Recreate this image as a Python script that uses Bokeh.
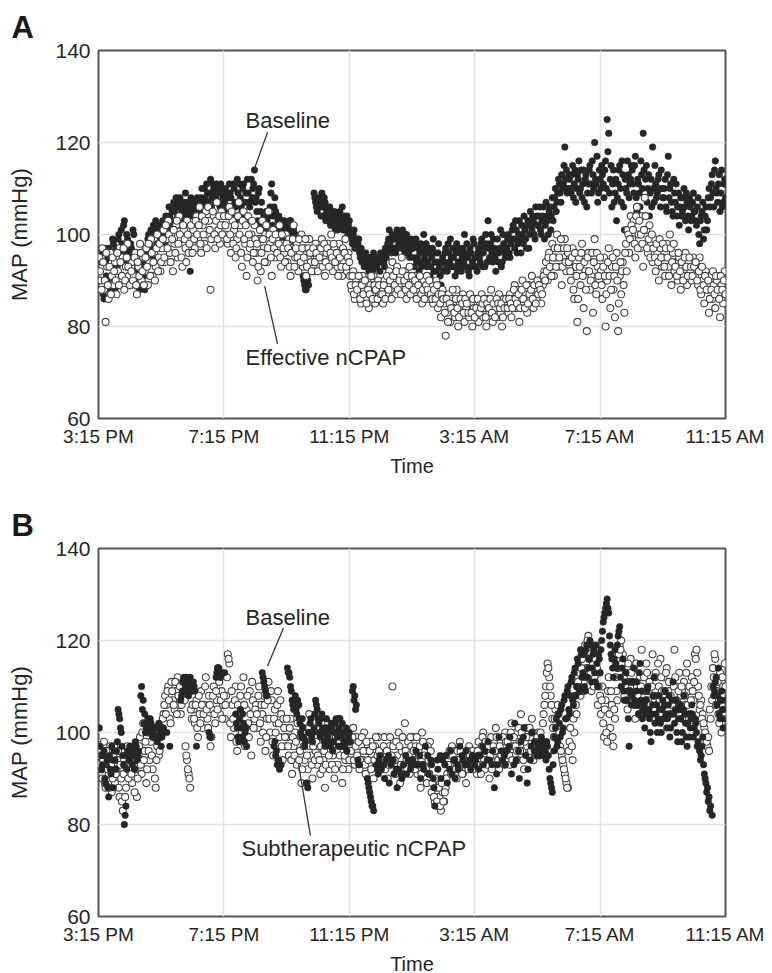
import numpy as np
from bokeh.plotting import figure
from bokeh.layouts import column
from bokeh.models import FixedTicker, Label, Range1d, ColumnDataSource, Title
from bokeh.embed import file_html
from bokeh.resources import INLINE

NA = float("nan")

# x axis: hours after 3:15 PM
TICK_HOURS = [0, 4, 8, 12, 16, 20]
TICK_LABELS = ["3:15 PM", "7:15 PM", "11:15 PM", "3:15 AM", "7:15 AM", "11:15 AM"]
MAP_TICKS = [60, 80, 100, 120, 140]

# Each row = MAP samples (mmHg) within one hour.
# "*_1" rows and "*_2" rows are interleaved samples of the same hour.
BASE_A_1 = [
    [92, 88, 96, 86, 94, 90, 97, 89, 95, 98, 88, 96, 99, 94, 101, 96, 103, 97, 99, 95],
    [98, 96, 100, 92, 89, 91, 93, 90, 94, 88, 96, 99, 97, 101, 95, 100, 103, 98, 102, 99],
    [100, 102, 98, 103, 101, 104, 106, 103, 105, 108, 104, 107, 103, 106, 105, 109, 104, 107, 92, 106],
    [105, 107, 103, 106, 104, 108, 106, 110, 107, 109, 106, 112, 108, 110, 107, 111, 109, 106, 110, 108],
    [107, 109, 106, 111, 108, 104, 110, 106, 112, 103, 108, 105, 111, 107, 104, 109, 106, 112, 110, 114],
    [108, 103, 110, 105, 102, 104, 101, 103, 100, 106, 111, 104, 108, 97, 103, 100, 102, 99, 103, 101],
    [102, 100, 103, 99, 101, 100, NA, NA, NA, NA, 91, 89, 88, 90, NA, NA, NA, 109, 107, 105],
    [108, 106, 109, 104, 107, 105, 103, 106, 104, 102, 105, 103, 101, 104, 102, 106, 103, 101, 104, 102],
    [101, 99, 100, 97, 99, 98, 96, 97, 95, 93, 96, 94, 92, 95, 93, 96, 94, 93, 95, 92],
    [94, 96, 93, 95, 98, 101, 97, 100, 99, 96, 101, 98, 100, 97, 99, 96, 100, 98, 95, 99],
    [97, 93, 99, 95, 92, 98, 94, 100, 96, 93, 97, 91, 95, 99, 94, 92, 96, 93, 89, 95],
    [94, 97, 92, 96, 99, 93, 95, 91, 98, 94, 96, 92, 97, 100, 93, 95, 91, 96, 94, 98],
    [95, 92, 97, 94, 99, 96, 93, 98, 103, 95, 100, 94, 97, 92, 99, 96, 101, 94, 98, 95],
    [97, 100, 95, 99, 102, 97, 101, 98, 103, 96, 100, 104, 99, 102, 97, 105, 101, 103, 99, 104],
    [102, 106, 100, 104, 99, 107, 103, 105, 101, 108, 106, 110, 107, 112, 109, 113, 111, 119, 114, 110],
    [112, 109, 115, 111, 107, 113, 116, 110, 108, 114, 112, 106, 111, 115, 109, 113, 120, 111, 107, 114],
    [110, 113, 108, 116, 125, 122, 112, 106, 114, 109, 103, 111, 115, 107, 113, 101, 110, 116, 108, 112],
    [114, 109, 117, 105, 111, 106, 113, 122, 108, 115, 110, 104, 112, 119, 107, 111, 109, 113, 106, 110],
    [108, 112, 105, 117, 110, 107, 104, 109, 111, 106, 102, 108, 105, 110, 103, 107, 101, 106, 104, 109],
    [105, 102, 108, 98, 104, 107, 101, 106, 103, 110, 108, 113, 106, 116, 109, 111, 105, 114, 107, 112],
]
BASE_A_2 = [
    [90, 94, 87, 97, 91, 95, 88, 93, 99, 90, 97, 93, 100, 96, 98, 102, 94, 100, 96, 98],
    [97, 101, 95, 90, 93, 88, 92, 95, 91, 97, 93, 100, 98, 96, 102, 97, 101, 100, 97, 101],
    [103, 99, 104, 100, 106, 102, 105, 107, 103, 106, 102, 108, 105, 104, 107, 103, 106, 105, 108, 104],
    [106, 104, 108, 105, 107, 110, 105, 108, 111, 107, 109, 106, 111, 109, 108, 110, 107, 111, 109, 106],
    [110, 105, 108, 109, 106, 111, 107, 104, 109, 111, 106, 110, 104, 109, 112, 107, 103, 108, 111, 107],
    [105, 109, 102, 107, 103, 100, 105, 102, 104, 109, 102, 106, 105, 101, 104, 98, 103, 101, 100, 102],
    [101, 103, 100, 102, 98, NA, NA, NA, NA, NA, 90, 88, 91, 89, NA, NA, NA, 108, 106, 107],
    [107, 104, 106, 108, 103, 106, 104, 102, 105, 103, 101, 104, 102, 105, 103, 101, 104, 102, 100, 103],
    [100, 98, 101, 98, 97, 99, 95, 94, 96, 94, 93, 95, 93, 94, 92, 95, 93, 95, 94, 96],
    [95, 94, 97, 96, 99, 98, 96, 99, 97, 100, 97, 99, 98, 101, 98, 97, 99, 96, 98, 97],
    [95, 98, 94, 97, 96, 93, 97, 95, 98, 94, 96, 93, 97, 92, 96, 94, 98, 91, 94, 92],
    [96, 93, 98, 94, 95, 97, 93, 96, 92, 97, 93, 95, 94, 96, 98, 92, 97, 93, 99, 95],
    [93, 96, 95, 98, 93, 97, 100, 94, 97, 98, 96, 99, 95, 96, 94, 97, 93, 100, 96, 97],
    [99, 96, 98, 101, 99, 103, 96, 100, 99, 102, 98, 101, 97, 103, 100, 102, 104, 100, 106, 102],
    [104, 101, 103, 106, 102, 104, 100, 106, 104, 103, 108, 105, 109, 111, 107, 110, 115, 112, 109, 113],
    [110, 113, 108, 114, 110, 112, 109, 114, 111, 107, 113, 109, 114, 111, 116, 110, 112, 117, 109, 112],
    [115, 111, 114, 110, 118, 109, 115, 111, 107, 112, 108, 114, 110, 116, 106, 112, 109, 113, 111, 115],
    [111, 115, 108, 112, 109, 116, 110, 114, 112, 107, 113, 109, 106, 110, 115, 108, 112, 110, 114, 108],
    [110, 106, 113, 108, 111, 105, 112, 107, 104, 109, 106, 104, 108, 106, 109, 104, 108, 103, 107, 105],
    [103, 106, 100, 103, 105, 99, 104, 101, 108, 106, 111, 109, 114, 110, 107, 113, 109, 106, 111, 108],
]

CPAP_A_1 = [
    [95, 90, 97, 88, 81, 93, 86, 96, 91, 89, 94, 87, 92, 97, 90, 95, 88, 93, 98, 91],
    [89, 94, 91, 96, 87, 93, 98, 90, 95, 92, 97, 89, 94, 99, 91, 96, 93, 100, 95, 92],
    [97, 101, 94, 99, 103, 96, 100, 92, 98, 102, 95, 104, 99, 93, 101, 97, 103, 96, 100, 98],
    [101, 97, 104, 99, 106, 96, 102, 98, 105, 100, 103, 88, 99, 104, 97, 107, 101, 98, 105, 102],
    [100, 104, 98, 106, 96, 103, 101, 95, 99, 107, 102, 93, 105, 98, 91, 104, 97, 100, 94, 102],
    [96, 90, 99, 92, 103, 97, 100, 94, 105, 98, 91, 101, 95, 99, 97, 102, 93, 98, 96, 100],
    [94, 99, 91, 97, 102, 95, 98, 92, 96, 100, 93, 97, 91, 95, 99, 94, 96, 92, 98, 95],
    [97, 93, 99, 95, 91, 96, 98, 94, 100, 92, 97, 95, 93, 98, 96, 91, 94, 99, 92, 96],
    [91, 88, 92, 86, 90, 87, 89, 85, 91, 88, 86, 90, 84, 89, 87, 91, 85, 88, 90, 86],
    [88, 85, 90, 87, 89, 92, 88, 94, 90, 87, 93, 89, 91, 95, 88, 92, 86, 90, 93, 89],
    [90, 87, 91, 88, 86, 89, 85, 90, 87, 91, 86, 88, 89, 85, 87, 90, 84, 86, 82, 88],
    [85, 78, 83, 87, 81, 86, 84, 82, 88, 80, 85, 83, 87, 81, 84, 86, 82, 85, 80, 84],
    [86, 83, 81, 85, 87, 82, 84, 80, 86, 83, 88, 81, 85, 84, 82, 87, 83, 80, 86, 84],
    [85, 83, 87, 82, 86, 89, 84, 88, 81, 86, 90, 85, 87, 83, 89, 86, 91, 84, 88, 86],
    [87, 90, 85, 89, 92, 94, 90, 96, 93, 98, 91, 95, 100, 93, 97, 89, 95, 99, 92, 96],
    [94, 90, 97, 86, 93, 81, 95, 89, 98, 84, 92, 79, 96, 88, 91, 83, 99, 87, 93, 90],
    [92, 86, 95, 80, 90, 97, 84, 93, 88, 82, 96, 79, 91, 87, 94, 83, 98, 101, 96, 104],
    [99, 103, 95, 106, 100, 97, 104, 93, 108, 101, 96, 102, 98, 94, 99, 92, 96, 90, 97, 93],
    [95, 91, 98, 93, 100, 89, 96, 92, 94, 90, 95, 88, 93, 91, 96, 89, 94, 92, 90, 95],
    [91, 93, 89, 95, 87, 90, 85, 92, 88, 83, 91, 86, 89, 84, 90, 87, 82, 89, 85, 92],
]
CPAP_A_2 = [
    [92, 88, 94, 90, 96, 89, 93, 87, 95, 92, 90, 96, 89, 94, 91, 97, 90, 95, 93, 89],
    [92, 90, 95, 89, 94, 91, 96, 92, 89, 95, 93, 98, 91, 96, 94, 90, 97, 92, 98, 94],
    [99, 95, 102, 97, 100, 94, 99, 101, 96, 103, 98, 100, 95, 102, 99, 94, 100, 98, 102, 96],
    [99, 103, 100, 102, 98, 104, 100, 103, 97, 106, 101, 99, 105, 100, 103, 99, 104, 102, 100, 104],
    [102, 99, 104, 100, 105, 98, 102, 97, 104, 100, 96, 103, 99, 102, 95, 100, 98, 103, 96, 99],
    [98, 93, 101, 96, 99, 94, 102, 97, 100, 95, 99, 97, 100, 96, 98, 95, 100, 97, 94, 98],
    [97, 93, 96, 99, 93, 97, 95, 99, 94, 97, 95, 99, 93, 97, 96, 92, 97, 94, 96, 92],
    [95, 97, 93, 98, 94, 97, 93, 96, 95, 98, 94, 96, 91, 95, 93, 97, 96, 93, 95, 94],
    [89, 91, 87, 89, 88, 91, 86, 89, 87, 90, 85, 88, 87, 91, 86, 89, 88, 86, 89, 87],
    [87, 89, 86, 91, 88, 90, 86, 91, 89, 92, 88, 90, 87, 92, 90, 88, 91, 89, 87, 91],
    [88, 90, 86, 89, 91, 87, 88, 86, 89, 88, 90, 87, 86, 88, 86, 89, 87, 85, 87, 86],
    [83, 86, 81, 85, 84, 88, 83, 86, 84, 82, 86, 85, 83, 86, 85, 83, 87, 83, 86, 82],
    [84, 86, 83, 84, 85, 86, 82, 85, 84, 86, 83, 85, 82, 86, 85, 84, 85, 82, 84, 86],
    [84, 86, 85, 84, 88, 86, 85, 87, 84, 88, 86, 84, 89, 85, 87, 88, 86, 89, 85, 90],
    [89, 88, 87, 91, 90, 92, 95, 93, 91, 95, 97, 93, 97, 95, 99, 93, 97, 94, 97, 94],
    [92, 95, 88, 96, 91, 86, 93, 96, 91, 94, 88, 95, 92, 90, 96, 94, 89, 96, 91, 95],
    [89, 93, 91, 87, 94, 91, 88, 95, 91, 93, 90, 85, 94, 92, 89, 96, 92, 100, 99, 102],
    [101, 98, 104, 97, 103, 100, 98, 101, 104, 97, 99, 95, 100, 97, 95, 98, 94, 99, 95, 98],
    [93, 97, 95, 91, 97, 94, 98, 93, 91, 96, 92, 94, 90, 95, 93, 91, 95, 93, 91, 93],
    [94, 90, 92, 88, 93, 89, 91, 88, 90, 86, 88, 92, 87, 91, 88, 86, 91, 88, 90, 87],
]

BASE_B_1 = [
    [101, 95, 93, 96, 89, 94, 86, 92, 97, 88, 94, 96, 105, 103, 100, 95, 80, 84, 96, 94],
    [97, 93, 95, 98, 94, 96, NA, 110, 107, 104, 101, 103, 100, 102, 99, 101, NA, 98, 102, 100],
    [99, 101, NA, 100, NA, 97, NA, NA, NA, NA, NA, NA, 107, 109, 112, 110, 111, 108, 112, 110],
    [111, 109, 97, NA, NA, NA, NA, NA, NA, NA, 100, 99, NA, NA, NA, 113, 114, 112, 113, NA],
    [113, NA, NA, NA, NA, NA, NA, 104, 101, 98, 105, 99, 102, 100, 97, NA, NA, NA, NA, NA],
    [NA, NA, NA, NA, 113, 111, 109, 108, NA, NA, NA, NA, 98, 96, 94, 92, 93, NA, NA, NA],
    [114, 113, 110, 107, 105, 108, 104, 106, 102, 99, 101, 97, 89, 88, 100, 103, 98, 101, 107, 105],
    [102, 99, 104, 100, 97, 103, 101, 98, 102, 96, 100, 103, 99, 101, 97, 102, 98, 100, 96, 99],
    [98, NA, 110, 108, 106, 94, 93, NA, NA, NA, NA, 90, 88, 86, 84, 83, NA, 93, 91, 95],
    [92, NA, 90, 94, NA, 89, 93, NA, 91, NA, 88, 92, NA, 90, 93, NA, 91, 94, NA, 93],
    [94, NA, 96, 93, NA, 90, NA, 92, 97, NA, 91, NA, 93, 90, 84, NA, 92, NA, 90, 94],
    [NA, 95, 89, NA, 96, 91, NA, 90, NA, 92, 97, NA, 94, NA, 96, 93, NA, 92, 95, NA],
    [94, NA, 92, 95, NA, 93, 96, NA, 98, 94, NA, 96, 88, NA, 93, 99, NA, 94, NA, 93],
    [96, NA, 99, 91, NA, 102, 94, NA, 90, 98, NA, 101, 95, 89, NA, 94, 100, NA, 98, 95],
    [97, 95, 99, 96, 98, 94, 97, 92, 89, 87, 96, 101, 97, 104, 99, 106, 101, 108, 103, 110],
    [104, 111, 107, 113, 108, 116, 110, 118, 112, 117, 109, 119, 114, 120, 111, 117, 113, 119, 110, 116],
    [118, 122, 125, 127, 129, 126, 119, 116, 112, 118, 114, 121, 123, 110, 116, 107, 113, 109, 97, 111],
    [108, 114, 106, 111, 104, 115, 109, 105, 101, 107, 110, 103, 98, 106, 112, 104, 100, 108, 102, 105],
    [103, 109, 101, 106, 99, 104, 111, 102, 107, 98, 105, 103, 100, 108, 102, 97, 104, 101, 106, 99],
    [103, 100, 98, 96, 95, 99, 91, 89, 88, 86, 84, 82, 108, 111, 106, 114, 103, 109, 101, 105],
]
BASE_B_2 = [
    [97, 92, 95, 90, 93, 88, 95, 91, 94, 96, 92, 98, 104, 101, 97, 93, 82, 92, 95, 97],
    [95, 96, 92, 97, 95, NA, 108, 105, 102, 100, 102, 101, 103, 100, 100, NA, 99, 101, 99, 97],
    [100, NA, NA, NA, NA, NA, NA, NA, NA, NA, NA, NA, 108, 111, 109, 112, 110, 109, 111, 109],
    [110, NA, NA, NA, NA, NA, NA, NA, NA, NA, 99, NA, NA, NA, 112, 114, 113, 112, NA, NA],
    [NA, NA, NA, NA, NA, NA, NA, 102, 99, 103, 101, 104, 98, 101, NA, NA, NA, NA, NA, NA],
    [NA, NA, NA, NA, 112, 110, 108, NA, NA, NA, NA, 97, 95, 93, 94, NA, NA, NA, NA, NA],
    [113, 112, 109, 106, 107, 105, 107, 103, 100, 103, 99, 98, 89, 100, 102, 99, 100, 104, 106, 103],
    [100, 103, 101, 98, 101, 99, 100, 97, 101, 98, 102, 100, 97, 103, 99, 100, 97, 101, 98, 100],
    [NA, 109, 107, 105, NA, 93, NA, NA, NA, NA, NA, 89, 87, 85, 84, NA, NA, 92, 94, 93],
    [NA, 93, NA, NA, 95, NA, NA, 94, NA, 92, NA, NA, 91, NA, NA, 95, NA, NA, 92, NA],
    [NA, 93, NA, NA, 95, NA, 93, NA, NA, 95, NA, 94, NA, 88, NA, 94, NA, 95, NA, NA],
    [93, NA, NA, 92, NA, NA, 94, NA, 93, NA, NA, 95, NA, 93, NA, NA, 94, NA, NA, 93],
    [NA, 95, NA, NA, 97, NA, NA, 94, NA, NA, 93, NA, NA, 91, NA, NA, 96, NA, 95, NA],
    [NA, 97, NA, NA, 93, NA, NA, 96, NA, NA, 99, NA, NA, 92, NA, 97, NA, 96, NA, NA],
    [96, 98, 97, 95, 96, 98, 95, 90, 88, 93, 99, 103, 98, 102, 105, 100, 107, 103, 109, 105],
    [108, 112, 106, 114, 110, 115, 109, 117, 113, 110, 118, 112, 116, 119, 114, 118, 111, 115, 117, 113],
    [120, 124, 126, 128, 127, 121, 117, 114, 116, 115, 119, 122, 112, 114, 109, 111, 107, 103, 109, 106],
    [111, 107, 109, 106, 113, 107, 103, 106, 104, 109, 105, 100, 104, 108, 102, 106, 103, 105, 100, 107],
    [106, 104, 103, 108, 101, 107, 104, 105, 100, 103, 106, 98, 105, 104, 99, 102, 99, 103, 104, 101],
    [102, 97, 97, 94, 97, 93, 90, 87, 85, 83, NA, 110, 109, 112, 108, 104, 107, 105, 103, 107],
]

CPAP_B_1 = [
    [93, 96, 90, 98, 88, 94, 91, 97, 87, 95, 89, 92, 96, 86, 90, 83, 93, 88, 97, 91],
    [94, 89, 97, 92, 86, 95, 99, 91, 102, 96, 89, 100, 94, 98, 92, 101, 88, 97, 95, 99],
    [101, 104, 108, 106, 110, 103, 111, 107, 105, 109, 112, 106, 104, 108, 110, 97, 94, 91, 88, 103],
    [105, 102, 107, 99, 104, 109, 101, 106, 112, 103, 108, 97, 105, 110, 102, 107, 114, 104, 109, 106],
    [103, 108, 117, 115, 99, 106, 101, 110, 96, 104, 108, 100, 112, 97, 105, 102, 109, 95, 107, 103],
    [106, 101, 110, 98, 104, 108, 96, 103, 111, 100, 107, 95, 105, 102, 109, 99, 104, 94, 101, 97],
    [99, 95, 103, 91, 97, 100, 93, 106, 96, 89, 101, 94, 98, 92, 104, 95, 90, 99, 96, 93],
    [97, 91, 100, 94, 88, 96, 102, 92, 98, 95, 90, 99, 93, 103, 96, 89, 97, 94, 100, 92],
    [98, 95, 101, 93, 99, 96, 92, 97, 94, 100, 91, 96, 93, 98, 95, 90, 97, 93, 99, 95],
    [96, 92, 99, 94, 90, 97, 93, 110, 98, 91, 95, 100, 89, 96, 93, 102, 94, 98, 91, 97],
    [99, 94, 97, 91, 95, 88, 100, 93, 96, 89, 94, 98, 87, 89, 85, 88, 84, 86, 83, 87],
    [85, 88, 91, 95, 93, 97, 92, 96, 90, 94, 98, 93, 91, 95, 89, 94, 97, 92, 96, 93],
    [95, 91, 98, 93, 97, 100, 92, 96, 94, 90, 99, 95, 93, 101, 96, 92, 98, 94, 97, 100],
    [96, 99, 93, 102, 97, 95, 100, 94, 98, 104, 96, 92, 101, 97, 95, 99, 103, 94, 98, 96],
    [100, 95, 98, 102, 106, 110, 115, 112, 108, 103, 99, 105, 101, 104, 97, 95, 93, 91, 89, 88],
    [98, 104, 94, 100, 106, 110, 113, 108, 116, 111, 119, 114, 121, 117, 109, 115, 112, 118, 106, 113],
    [104, 110, 99, 107, 98, 112, 101, 106, 97, 103, 109, 114, 119, 120, 117, 108, 113, 105, 111, 116],
    [108, 114, 103, 110, 106, 112, 118, 105, 109, 115, 107, 111, 104, 117, 108, 113, 106, 110, 116, 109],
    [112, 106, 114, 109, 104, 111, 107, 118, 110, 105, 113, 108, 103, 111, 106, 115, 109, 104, 112, 107],
    [117, 118, 110, 105, 107, 104, 101, 99, 97, 96, 103, 107, 112, 116, 109, 104, 113, 100, 110, 115],
]
CPAP_B_2 = [
    [95, 92, 94, 89, 96, 92, 88, 93, 90, 97, 91, 94, 88, 93, 85, 91, 86, 95, 90, 94],
    [91, 95, 87, 94, 90, 97, 93, 100, 94, 98, 92, 96, 101, 95, 99, 90, 94, 99, 96, 100],
    [103, 106, 104, 109, 107, 102, 109, 106, 111, 104, 108, 110, 106, 111, 107, 95, 92, 90, 105, 106],
    [103, 106, 101, 108, 102, 106, 104, 110, 105, 101, 106, 99, 108, 104, 109, 105, 111, 107, 103, 108],
    [106, 112, 116, 102, 109, 103, 107, 98, 106, 102, 110, 98, 106, 101, 108, 99, 104, 111, 101, 105],
    [104, 108, 102, 106, 100, 106, 99, 107, 103, 109, 98, 103, 100, 106, 102, 107, 97, 103, 99, 103],
    [97, 101, 94, 99, 95, 98, 102, 94, 99, 92, 97, 100, 95, 101, 97, 93, 97, 94, 98, 95],
    [94, 97, 92, 96, 93, 99, 95, 100, 93, 97, 92, 96, 98, 95, 99, 92, 95, 98, 96, 94],
    [96, 99, 94, 97, 95, 98, 94, 99, 96, 93, 98, 94, 96, 92, 97, 94, 99, 95, 96, 93],
    [94, 97, 92, 96, 93, 99, 95, 97, 94, 98, 92, 97, 93, 99, 91, 96, 92, 95, 99, 94],
    [96, 92, 99, 93, 97, 91, 98, 95, 92, 97, 91, 96, 89, 86, 90, 85, 88, 84, 89, 85],
    [87, 90, 93, 96, 91, 95, 94, 92, 96, 92, 96, 91, 94, 93, 96, 92, 95, 94, 92, 95],
    [93, 96, 95, 91, 99, 94, 98, 93, 97, 95, 92, 97, 96, 99, 94, 97, 95, 99, 93, 98],
    [98, 95, 100, 94, 99, 97, 96, 101, 96, 100, 94, 98, 99, 95, 101, 96, 100, 97, 95, 99],
    [98, 100, 96, 104, 108, 113, 114, 110, 106, 101, 103, 99, 106, 100, 96, 94, 92, 90, 88, 96],
    [101, 97, 103, 108, 104, 111, 109, 114, 109, 117, 112, 120, 116, 113, 119, 110, 116, 114, 110, 108],
    [107, 102, 105, 100, 109, 104, 109, 99, 105, 112, 107, 117, 118, 115, 112, 110, 107, 115, 109, 113],
    [111, 106, 115, 108, 104, 110, 106, 112, 107, 113, 109, 106, 110, 105, 112, 108, 115, 107, 112, 106],
    [109, 113, 107, 111, 108, 106, 110, 112, 107, 109, 106, 110, 105, 108, 113, 106, 110, 107, 109, 111],
    [116, 113, 108, 106, 103, 102, 100, 98, 99, 105, 110, 114, 117, 106, 111, 102, 107, 112, 104, 110],
]

FONT = "Liberation Sans"
TXT = "#262626"


def expand(rows_1, rows_2):
    t, v = [], []
    for rows, shift in ((rows_1, 0.5), (rows_2, 1.0)):
        for h, row in enumerate(rows):
            m = len(row)
            for j, val in enumerate(row):
                t.append(h + (j + shift) / m)
                v.append(val)
    return np.array(t, dtype=float), np.array(v, dtype=float)


def panel(letter, base, cpap, ann, top_b, frame_h, bottom_b, open_on_top):
    p = figure(frame_width=627, frame_height=frame_h,
               min_border_left=98, min_border_right=45,
               min_border_top=top_b, min_border_bottom=bottom_b,
               x_range=Range1d(0, 20), y_range=Range1d(60, 140),
               output_backend="svg", toolbar_location=None, tools="")
    p.title = Title(text=letter, align="left", offset=-87, standoff=12,
                    text_font=FONT, text_font_style="bold", text_font_size="31px",
                    text_color="#1a1a1a")
    p.background_fill_color = "white"
    p.border_fill_color = "white"
    p.outline_line_color = "#555555"
    p.outline_line_width = 2

    for ax in (p.xaxis, p.yaxis):
        ax.axis_line_color = None
        ax.major_tick_line_color = None
        ax.minor_tick_line_color = None
        ax.major_tick_out = 0
        ax.major_tick_in = 0
        ax.minor_tick_out = 0
        ax.major_label_text_font = FONT
        ax.major_label_text_color = TXT
        ax.axis_label_text_font = FONT
        ax.axis_label_text_font_style = "normal"
        ax.axis_label_text_color = TXT

    p.xaxis.ticker = FixedTicker(ticks=TICK_HOURS)
    p.xaxis.major_label_overrides = {h: s for h, s in zip(TICK_HOURS, TICK_LABELS)}
    p.xaxis.major_label_text_font_size = "19px"
    p.xaxis.major_label_standoff = 7
    p.xaxis.axis_label = "Time"
    p.xaxis.axis_label_text_font_size = "20px"
    p.xaxis.axis_label_standoff = 5

    p.yaxis.ticker = FixedTicker(ticks=MAP_TICKS)
    p.yaxis.major_label_text_font_size = "21px"
    p.yaxis.major_label_standoff = 8
    p.yaxis.axis_label = "MAP (mmHg)"
    p.yaxis.axis_label_text_font_size = "22px"
    p.yaxis.axis_label_standoff = 20

    p.xgrid.grid_line_color = "#e3e3e3"
    p.ygrid.grid_line_color = "#e3e3e3"
    p.xgrid.grid_line_width = 1.5
    p.ygrid.grid_line_width = 1.5

    tb, vb = expand(*base)
    tc, vc = expand(*cpap)
    src_b = ColumnDataSource(dict(t=tb, v=vb))
    src_c = ColumnDataSource(dict(t=tc, v=vc))

    def draw_base():
        p.scatter("t", "v", source=src_b, size=6.5, marker="circle",
                  fill_color="#262626", line_color="#262626", line_width=0.6)

    def draw_cpap():
        p.scatter("t", "v", source=src_c, size=7, marker="circle",
                  fill_color="white", line_color="#444444", line_width=1.1)

    if open_on_top:
        draw_base(); draw_cpap()
    else:
        draw_cpap(); draw_base()

    for (tx, ty, text, x0, y0, x1, y1) in ann:
        p.add_layout(Label(x=tx, y=ty, text=text, text_font=FONT, text_font_size="22px",
                           text_color=TXT, text_align="left", text_baseline="middle"))
        p.segment(x0=[x0], y0=[y0], x1=[x1], y1=[y1], line_color="#333333", line_width=1.3)
    return p


ANN_A = [
    (4.69, 124.8, "Baseline", 5.39, 122.2, 4.98, 114.4),
    (4.69, 73.3, "Effective nCPAP", 5.30, 88.8, 5.71, 76.2),
]
ANN_B = [
    (4.69, 125.1, "Baseline", 5.90, 122.7, 5.39, 114.4),
    (4.56, 74.8, "Subtherapeutic nCPAP", 6.38, 93.1, 6.76, 77.6),
]

pA = panel("A", (BASE_A_1, BASE_A_2), (CPAP_A_1, CPAP_A_2), ANN_A, 50, 368, 70, True)
pB = panel("B", (BASE_B_1, BASE_B_2), (CPAP_B_1, CPAP_B_2), ANN_B, 60, 368, 54, False)

layout = column(pA, pB, spacing=0)
open("out.html", "w").write(file_html(layout, INLINE))
